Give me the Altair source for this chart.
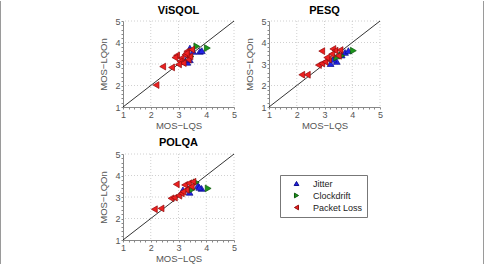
import altair as alt
import pandas as pd

# Series definitions (legend order)
series = ["Jitter", "Clockdrift", "Packet Loss"]
fill_colors = ["#2323e6", "#1c961c", "#ee2020"]
edge_colors = ["#0c0c8a", "#0b560b", "#900c0c"]
shapes = ["triangle-up", "triangle-right", "triangle-left"]

# ViSQOL: MOS-LQS vs MOS-LQOn
visqol_jitter_lqs = [3.25, 3.32, 3.41, 3.41, 3.53, 3.77, 3.84, 3.35]
visqol_jitter_lqon = [3.12, 3.08, 3.20, 3.74, 3.59, 3.59, 3.62, 3.45]
visqol_clock_lqs = [3.66, 4.04, 3.45]
visqol_clock_lqon = [3.82, 3.74, 3.35]
visqol_loss_lqs = [2.19, 2.43, 2.75, 2.93, 2.87, 3.10, 3.23, 3.30, 3.47, 3.35, 3.41, 3.05, 3.17, 3.00, 3.28]
visqol_loss_lqon = [2.02, 2.88, 2.84, 3.40, 3.30, 3.27, 3.43, 3.59, 3.67, 3.20, 3.35, 3.12, 3.04, 2.98, 3.50]

# PESQ
pesq_jitter_lqs = [3.22, 3.44, 3.74, 3.86, 3.62, 3.32]
pesq_jitter_lqon = [3.02, 3.12, 3.54, 3.62, 3.42, 3.22]
pesq_clock_lqs = [4.04, 3.62, 3.44]
pesq_clock_lqon = [3.62, 3.38, 3.30]
pesq_loss_lqs = [2.18, 2.38, 2.90, 2.78, 2.90, 3.02, 3.14, 3.30, 3.38, 3.56, 3.26, 3.50, 3.08]
pesq_loss_lqon = [2.50, 2.50, 3.60, 2.95, 3.02, 3.10, 3.22, 3.70, 3.62, 3.65, 3.46, 3.38, 3.30]

# POLQA
polqa_jitter_lqs = [3.16, 3.34, 3.70, 3.83, 3.40, 3.75]
polqa_jitter_lqon = [3.33, 3.40, 3.53, 3.40, 3.22, 3.45]
polqa_clock_lqs = [3.64, 4.07, 3.50]
polqa_clock_lqon = [3.68, 3.40, 3.35]
polqa_loss_lqs = [2.13, 2.37, 2.92, 2.73, 2.85, 3.01, 3.10, 3.22, 3.37, 3.52, 3.28, 3.16, 3.46]
polqa_loss_lqon = [2.43, 2.47, 3.59, 2.94, 2.97, 3.06, 3.17, 3.56, 3.64, 3.71, 3.33, 3.25, 3.48]

grid_levels = [2, 3, 4, 5]
identity_line = [1, 5]
axis_ticks = [round(1 + 0.2 * i, 1) for i in range(21)]

FONT = "Liberation Sans"
W, H = 111, 86


def frame(pairs):
    rows = []
    for name, xs, ys in pairs:
        for x, y in zip(xs, ys):
            rows.append({"series": name, "lqs": x, "lqon": y})
    return pd.DataFrame(rows)


xscale = alt.Scale(domain=[1, 5], nice=False, zero=False)
yscale = alt.Scale(domain=[1, 5], nice=False, zero=False)

label_expr = "abs(datum.value - round(datum.value)) < 0.001 ? format(datum.value, 'd') : ''"


def axis(title, title_pad):
    return alt.Axis(
        title=title, values=axis_ticks, labelExpr=label_expr, grid=False,
        tickSize=2, tickColor="#888", domainColor="#888", labelColor="#555",
        titleColor="#555", labelFont=FONT, titleFont=FONT, labelFontSize=9,
        titleFontSize=9.5, titleFontWeight="normal", labelPadding=1,
        titlePadding=title_pad, labelFlush=False,
    )


x_axis = axis("MOS−LQS", 1)
y_axis = axis("MOS−LQOn", 6)

legend = alt.Legend(
    title=None, orient="none", legendX=157, legendY=154,
    strokeColor="#777", fillColor="white", padding=4, labelFont=FONT,
    labelFontSize=9, labelColor="#222", symbolSize=22, rowPadding=2,
    symbolOffset=8, labelOffset=12, symbolStrokeWidth=1,
)


def frame_edge(x_px):
    # thin grey page edge, positioned relative to the panel's plot origin
    return alt.Chart(pd.DataFrame({"k": [0]})).mark_rule(color="#9a9a9a", strokeWidth=1).encode(
        x=alt.value(x_px), y=alt.value(-20), y2=alt.value(244)
    )


def panel(title, df, title_y=-10, edge=None):
    grid_df = pd.DataFrame({"v": grid_levels})
    line_df = pd.DataFrame({"a": identity_line, "b": identity_line})
    title_df = pd.DataFrame({"t": [title]})

    gx = alt.Chart(grid_df).mark_rule(color="#c4c4c4", strokeDash=[1, 2], strokeWidth=0.8).encode(
        x=alt.X("v:Q", scale=xscale, axis=x_axis)
    )
    gy = alt.Chart(grid_df).mark_rule(color="#c4c4c4", strokeDash=[1, 2], strokeWidth=0.8).encode(
        y=alt.Y("v:Q", scale=yscale, axis=y_axis)
    )
    diag = alt.Chart(line_df).mark_line(color="black", strokeWidth=0.8).encode(
        x=alt.X("a:Q", scale=xscale, axis=x_axis),
        y=alt.Y("b:Q", scale=yscale, axis=y_axis),
    )
    pts = alt.Chart(df).mark_point(filled=True, size=46, opacity=1, strokeWidth=0.7).encode(
        x=alt.X("lqs:Q", scale=xscale, axis=x_axis),
        y=alt.Y("lqon:Q", scale=yscale, axis=y_axis),
        fill=alt.Fill("series:N", scale=alt.Scale(domain=series, range=fill_colors), legend=legend),
        stroke=alt.Stroke("series:N", scale=alt.Scale(domain=series, range=edge_colors), legend=legend),
        shape=alt.Shape("series:N", scale=alt.Scale(domain=series, range=shapes), legend=legend),
        order=alt.Order("idx:Q"),
    ).transform_calculate(idx="indexof(['Jitter','Clockdrift','Packet Loss'], datum.series)")
    head = alt.Chart(title_df).mark_text(
        font=FONT, fontSize=11, fontWeight="bold", color="black", baseline="middle", align="center"
    ).encode(x=alt.value(W / 2), y=alt.value(title_y), text="t:N")
    layers = [gx, gy, diag, pts, head]
    if edge is not None:
        layers.append(frame_edge(edge))
    return alt.layer(*layers).properties(width=W, height=H)


p1 = panel("ViSQOL", frame([
    ("Jitter", visqol_jitter_lqs, visqol_jitter_lqon),
    ("Clockdrift", visqol_clock_lqs, visqol_clock_lqon),
    ("Packet Loss", visqol_loss_lqs, visqol_loss_lqon),
]), edge=-122.5)
p2 = panel("PESQ", frame([
    ("Jitter", pesq_jitter_lqs, pesq_jitter_lqon),
    ("Clockdrift", pesq_clock_lqs, pesq_clock_lqon),
    ("Packet Loss", pesq_loss_lqs, pesq_loss_lqon),
]), edge=214.5)
p3 = panel("POLQA", frame([
    ("Jitter", polqa_jitter_lqs, polqa_jitter_lqon),
    ("Clockdrift", polqa_clock_lqs, polqa_clock_lqon),
    ("Packet Loss", polqa_loss_lqs, polqa_loss_lqon),
]), title_y=-11)

chart = alt.concat(
    p1, p2, p3, columns=2, bounds="flush", spacing={"row": 47, "column": 35}
).properties(
    padding=0,
    background="white",
).configure_view(stroke=None)

chart.save("out.html", embed_options={"renderer": "svg", "actions": False})
